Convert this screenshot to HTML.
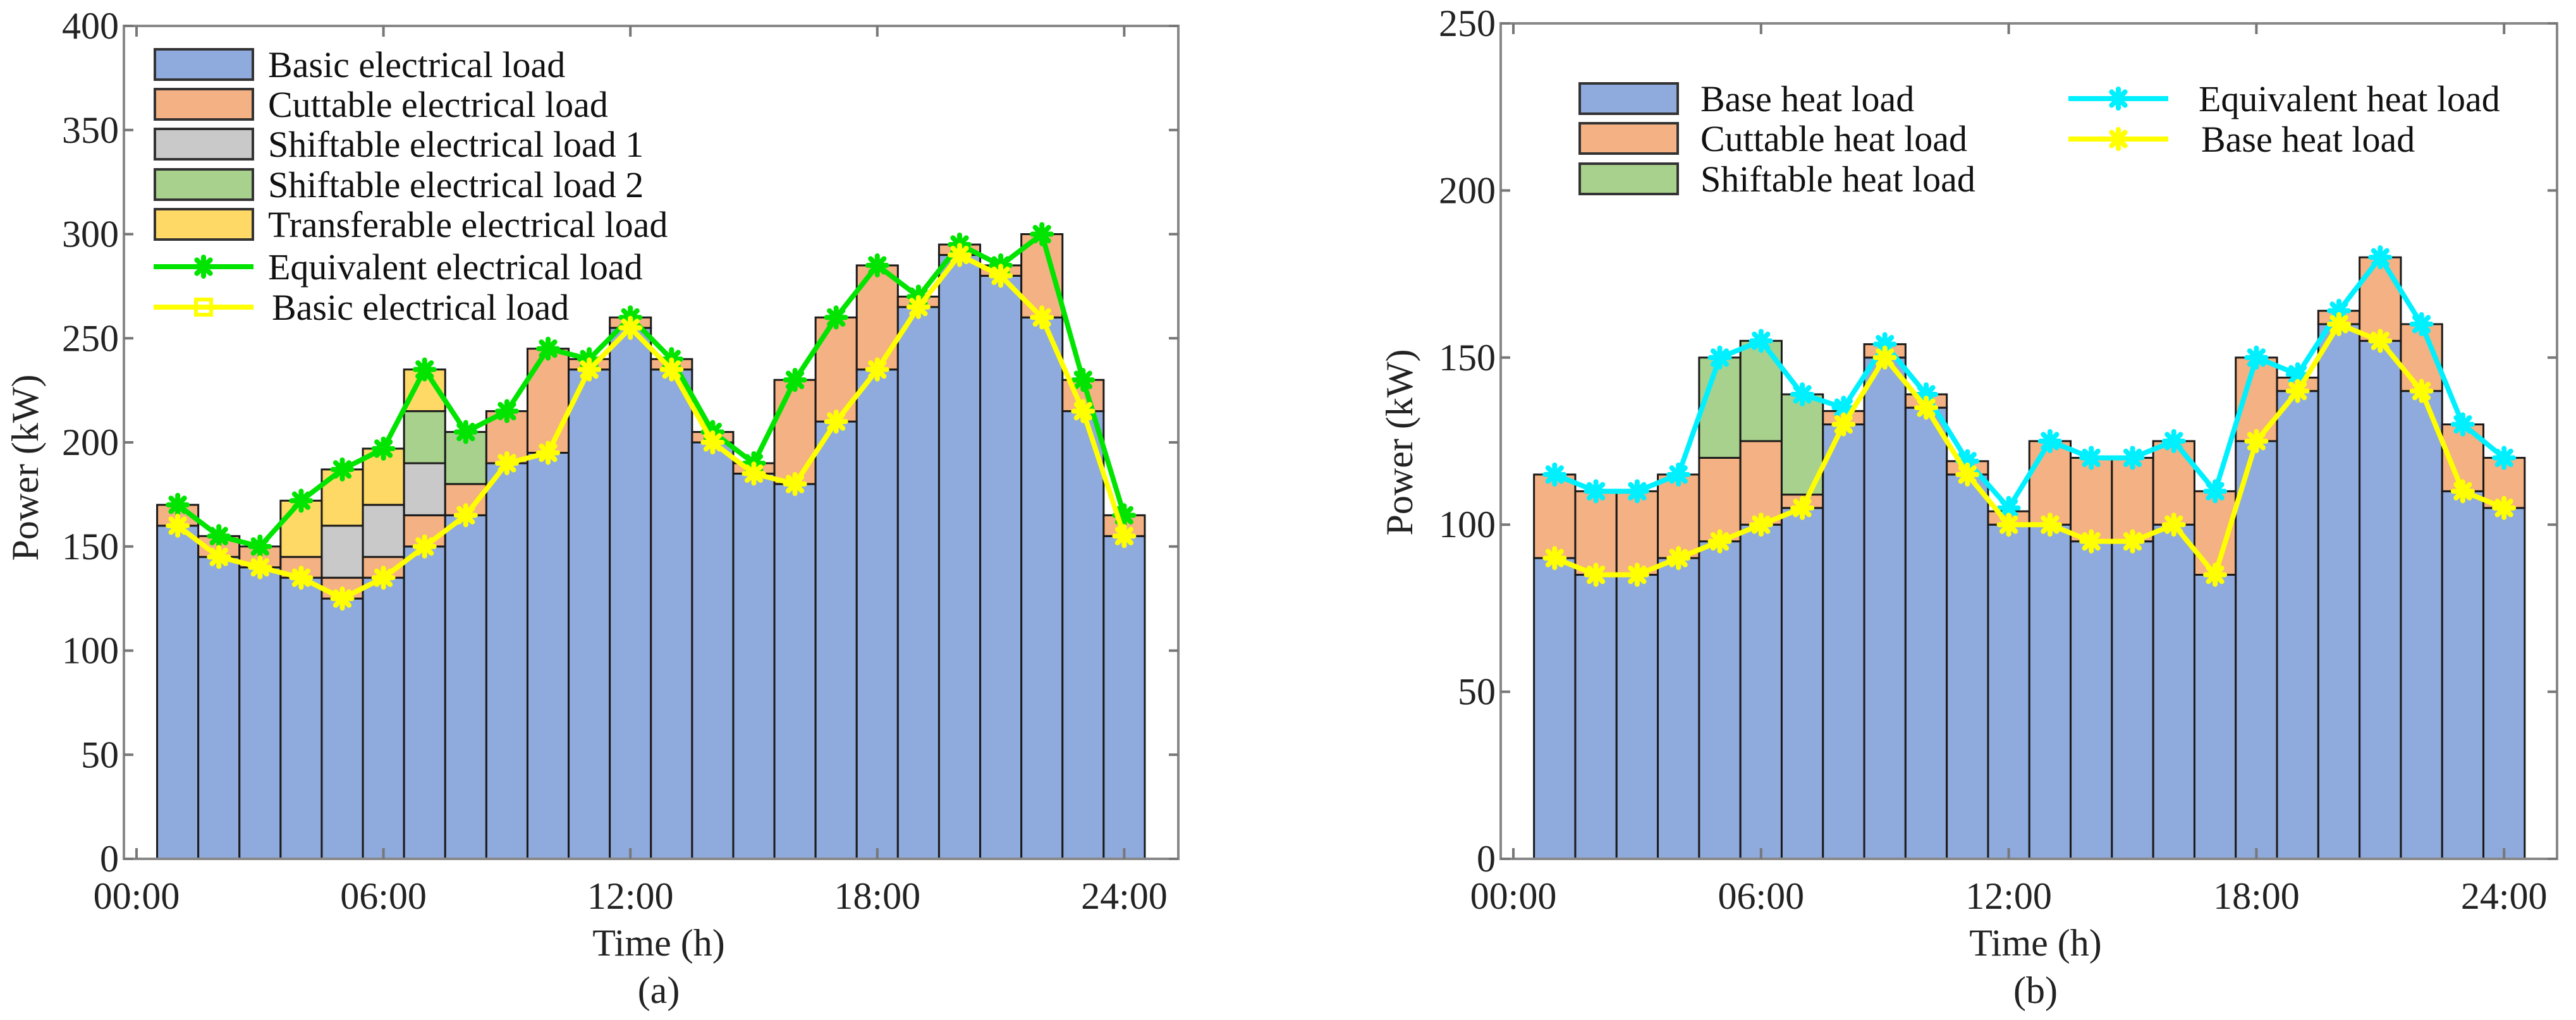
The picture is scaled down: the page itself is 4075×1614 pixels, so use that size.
<!DOCTYPE html>
<html><head><meta charset="utf-8"><style>
html,body{margin:0;padding:0;background:#fff;}
svg, svg text{font-family:"Liberation Serif","Times New Roman",serif !important;}
</style></head><body>
<svg id="fig" width="4075" height="1609" viewBox="0 0 4075 1609" xmlns="http://www.w3.org/2000/svg" font-family="Liberation Serif, serif"></svg>
<script>
// ---- Chart (a) electrical data ----
const hoursA = [1,2,3,4,5,6,7,8,9,10,11,12,13,14,15,16,17,18,19,20,21,22,23,24];
const basicElec = [160,145,140,135,125,135,150,165,190,195,235,255,235,200,185,180,210,235,265,290,280,260,215,155];
const cutElec   = [10,10,10,10,10,10,15,15,25,50,5,5,5,5,5,50,50,50,5,5,5,40,15,10];
const shift1Elec= [0,0,0,0,25,25,25,0,0,0,0,0,0,0,0,0,0,0,0,0,0,0,0,0];
const shift2Elec= [0,0,0,0,0,0,25,25,0,0,0,0,0,0,0,0,0,0,0,0,0,0,0,0];
const transElec = [0,0,0,27,27,27,20,0,0,0,0,0,0,0,0,0,0,0,0,0,0,0,0,0];
const equivElec = [170,155,150,172,187,197,235,205,215,245,240,260,240,205,190,230,260,285,270,295,285,300,230,165];
const yTicksA = [0,50,100,150,200,250,300,350,400];
// ---- Chart (b) heat data ----
const baseHeat  = [90,85,85,90,95,100,105,130,150,135,115,100,100,95,95,100,85,125,140,160,155,140,110,105];
const cutHeat   = [25,25,25,25,25,25,4,4,4,4,4,4,25,25,25,25,25,25,4,4,25,20,20,15];
const shiftHeat = [0,0,0,0,30,30,30,0,0,0,0,0,0,0,0,0,0,0,0,0,0,0,0,0];
const equivHeat = [115,110,110,115,150,155,139,135,154,139,119,105,125,120,120,125,110,150,145,164,180,160,130,120];
const yTicksB = [0,50,100,150,200,250];
const xTickHours = [0,6,12,18,24];
const xTickLabels = ["00:00","06:00","12:00","18:00","24:00"];

const NS="http://www.w3.org/2000/svg";
const FONT='"Liberation Serif", serif';
const svg=document.getElementById('fig');
function mk(tag,attrs,parent){const e=document.createElementNS(NS,tag);for(const k in attrs)e.setAttribute(k,attrs[k]);if(tag==='text'){e.setAttribute('font-family',FONT);e.style.fontFamily=FONT;}(parent||svg).appendChild(e);return e;}

const C={blue:"#8FAADC",orange:"#F4B183",gray:"#C9C9C9",green:"#A9D18E",yellow:"#FFD966"};

function star(g,cx,cy,color,r){
  for(let a=0;a<4;a++){
    const t=a*Math.PI/4;
    const l=mk('line',{x1:cx-r*Math.cos(t),y1:cy-r*Math.sin(t),x2:cx+r*Math.cos(t),y2:cy+r*Math.sin(t),stroke:color,'stroke-width':8,'stroke-linecap':'round'},g);
    
    
  }
  const c=mk('circle',{cx:cx,cy:cy,r:r*0.55,fill:color},g);
  
  
}

function chart(cfg){
  const X=h=>cfg.x0+h*cfg.pxh;
  const Y=v=>cfg.yb-v*cfg.pyu;
  const g=mk('g',{});
  
  
  cfg.hours.forEach((h,i)=>{
    let base=0;
    cfg.stacks.forEach(s=>{
      const v=s.data[i];
      if(v>0){
        const r=mk('rect',{x:X(h-0.5),y:Y(base+v),width:cfg.pxh,height:v*cfg.pyu,fill:s.color,stroke:"#1a1a1a",'stroke-width':3},g);
        
        
      }
      base+=v;
    });
  });
  const box=mk('rect',{x:cfg.axL,y:cfg.axT,width:cfg.axR-cfg.axL,height:cfg.yb-cfg.axT,fill:'none',stroke:'#888','stroke-width':4},g);
  
  
  cfg.yTicks.forEach(v=>{
    const t1=mk('line',{x1:cfg.axL,y1:Y(v),x2:cfg.axL+15,y2:Y(v),stroke:'#777','stroke-width':4},g);
    
    
    const t2=mk('line',{x1:cfg.axR,y1:Y(v),x2:cfg.axR-15,y2:Y(v),stroke:'#777','stroke-width':4},g);
    
    
    const tx=mk('text',{x:cfg.axL-8,y:Y(v)+20,'text-anchor':'end','font-size':60,fill:'#222'},g);
    tx.textContent=v;
    
    
  });
  xTickHours.forEach((h,i)=>{
    const t1=mk('line',{x1:X(h),y1:cfg.yb,x2:X(h),y2:cfg.yb-17,stroke:'#777','stroke-width':4},g);
    
    
    const t2=mk('line',{x1:X(h),y1:cfg.axT,x2:X(h),y2:cfg.axT+17,stroke:'#777','stroke-width':4},g);
    
    
    const tx=mk('text',{x:X(h),y:1438,'text-anchor':'middle','font-size':60,fill:'#222'},g);
    tx.textContent=xTickLabels[i];
    
    
  });
  cfg.lines.forEach(L=>{
    const pts=cfg.hours.map((h,i)=>X(h)+','+Y(L.data[i])).join(' ');
    const pl=mk('polyline',{points:pts,fill:'none',stroke:L.color,'stroke-width':8,'stroke-linejoin':'round'},g);
    
    
    cfg.hours.forEach((h,i)=>star(g,X(h),Y(L.data[i]),L.color,15));
  });
  const yt=mk('text',{x:0,y:0,'text-anchor':'middle','font-size':60,fill:'#222',transform:`translate(${cfg.ytx},${cfg.yty}) rotate(-90)`},g);
  yt.textContent='Power (kW)';
  
  
  const xt=mk('text',{x:cfg.cx,y:1512,'text-anchor':'middle','font-size':60,fill:'#222'},g);
  xt.textContent='Time (h)';
  
  
  const cap=mk('text',{x:cfg.cx,y:1587,'text-anchor':'middle','font-size':60,fill:'#222'},g);
  cap.textContent=cfg.caption;
  
  
  cfg.legend.forEach(it=>{
    if(it.type==='box'){
      const r=mk('rect',{x:it.x,y:it.y-24,width:155,height:48,fill:it.color,stroke:'#333','stroke-width':4},g);
      
      
    } else {
      const l=mk('line',{x1:it.x,y1:it.y,x2:it.x+158,y2:it.y,stroke:it.color,'stroke-width':8},g);
      
      
      if(it.square){
        const s=mk('rect',{x:it.x+79-12,y:it.y-12,width:24,height:24,fill:'none',stroke:it.color,'stroke-width':6},g);
        
        
      } else star(g,it.x+79,it.y,it.color,15);
    }
    const t=mk('text',{x:it.tx,y:it.y+20,'font-size':58,fill:'#111'},g);
    t.textContent=it.label;
    
    
  });
}

chart({name:'electrical-load-chart',hours:hoursA,x0:216,pxh:65.1,yb:1359,pyu:1318/400,axL:196,axR:1864,axT:41,
  yTicks:yTicksA,ytx:60,yty:740,cx:1042,caption:'(a)',
  stacks:[{key:'basic',data:basicElec,color:C.blue},{key:'cuttable',data:cutElec,color:C.orange},
          {key:'shiftable1',data:shift1Elec,color:C.gray},{key:'shiftable2',data:shift2Elec,color:C.green},
          {key:'transferable',data:transElec,color:C.yellow}],
  lines:[{key:'equivalent-electrical',data:equivElec,color:'#00E400'},{key:'basic-electrical',data:basicElec,color:'#FFFF00'}],
  legend:[
    {type:'box',x:245,y:102,color:C.blue,tx:424,label:'Basic electrical load'},
    {type:'box',x:245,y:165,color:C.orange,tx:424,label:'Cuttable electrical load'},
    {type:'box',x:245,y:228,color:C.gray,tx:424,label:'Shiftable electrical load 1'},
    {type:'box',x:245,y:292,color:C.green,tx:424,label:'Shiftable electrical load 2'},
    {type:'box',x:245,y:355,color:C.yellow,tx:424,label:'Transferable electrical load'},
    {type:'line',x:243,y:422,color:'#00E400',tx:424,label:'Equivalent electrical load'},
    {type:'line',x:243,y:486,color:'#FFFF00',tx:430,label:'Basic electrical load',square:true}
  ]});

chart({name:'heat-load-chart',hours:hoursA,x0:2394,pxh:65.3,yb:1359,pyu:1322/250,axL:2374,axR:4045,axT:37,
  yTicks:yTicksB,ytx:2234,yty:700,cx:3220,caption:'(b)',
  stacks:[{key:'base-heat',data:baseHeat,color:C.blue},{key:'cuttable-heat',data:cutHeat,color:C.orange},
          {key:'shiftable-heat',data:shiftHeat,color:C.green}],
  lines:[{key:'equivalent-heat',data:equivHeat,color:'#00F0FF'},{key:'base-heat',data:baseHeat,color:'#FFFF00'}],
  legend:[
    {type:'box',x:2499,y:156,color:C.blue,tx:2690,label:'Base heat load'},
    {type:'box',x:2499,y:219,color:C.orange,tx:2690,label:'Cuttable heat load'},
    {type:'box',x:2499,y:283,color:C.green,tx:2690,label:'Shiftable heat load'},
    {type:'line',x:3272,y:156,color:'#00F0FF',tx:3478,label:'Equivalent heat load'},
    {type:'line',x:3272,y:220,color:'#FFFF00',tx:3482,label:'Base heat load'}
  ]});
</script>
</body></html>
